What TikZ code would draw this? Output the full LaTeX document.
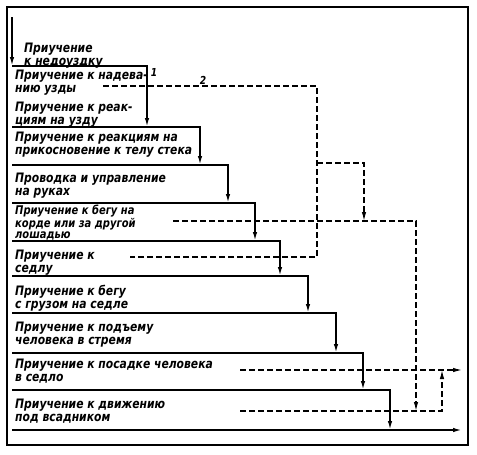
\documentclass[tikz,border=0pt]{standalone}
\usepackage{fontspec}
\setmainfont{DejaVu Sans}
\newfontfamily\lblfont{DejaVu Sans}[FakeStretch=0.83]
\usetikzlibrary{arrows.meta}
\begin{document}
\begin{tikzpicture}[x=1pt,y=-1pt,
  lbl/.style={anchor=north west, inner sep=0pt, align=left, font=\lblfont\bfseries\itshape\fontsize{13}{12.5}\selectfont},
  flow/.style={line width=1.6pt,-{Latex[length=9pt,width=4.5pt]}},
  fb/.style={line width=1.2pt, dash pattern=on 6pt off 3pt},
  fbarrow/.style={fb,-{Latex[length=9pt,width=4.5pt]}},
  num/.style={inner sep=0pt, font=\lblfont\bfseries\itshape\fontsize{11}{11}\selectfont}]
\useasboundingbox (0,0) rectangle (477,455);
\draw[line width=1.4pt] (7,7) rectangle (468,445);

% staircase coordinates
\coordinate (in) at (12,17);
\coordinate (L1) at (12,66);   \coordinate (R1) at (147,66);
\coordinate (L2) at (12,127);  \coordinate (R2) at (200,127);
\coordinate (L3) at (12,165);  \coordinate (R3) at (228,165);
\coordinate (L4) at (12,203);  \coordinate (R4) at (255,203);
\coordinate (L5) at (12,241);  \coordinate (R5) at (280,241);
\coordinate (L6) at (12,276);  \coordinate (R6) at (308,276);
\coordinate (L7) at (12,313);  \coordinate (R7) at (336,313);
\coordinate (L8) at (12,353);  \coordinate (R8) at (363,353);
\coordinate (L9) at (12,390);  \coordinate (R9) at (390,390);
\coordinate (L10) at (12,430); \coordinate (E) at (462,430);

\draw[flow] (in) -- (L1);
\draw[flow] (L1) -- (R1) -- (R1 |- L2);
\draw[flow] (L2) -- (R2) -- (R2 |- L3);
\draw[flow] (L3) -- (R3) -- (R3 |- L4);
\draw[flow] (L4) -- (R4) -- (R4 |- L5);
\draw[flow] (L5) -- (R5) -- (R5 |- L6);
\draw[flow] (L6) -- (R6) -- (R6 |- L7);
\draw[flow] (L7) -- (R7) -- (R7 |- L8);
\draw[flow] (L8) -- (R8) -- (R8 |- L9);
\draw[flow] (L9) -- (R9) -- (R9 |- L10);
\draw[flow] (L10) -- (E);

% labels
\node[lbl] (t0) at (24,43) {Приучение\\ к недоуздку};
\node[lbl] (t1) at (15,70) {Приучение к надева-\\нию узды};
\node[lbl] (t2) at (15,102) {Приучение к реак-\\циям на узду};
\node[lbl] (t3) at (15,132) {Приучение к реакциям на\\прикосновение к телу стека};
\node[lbl] (t4) at (15,173) {Проводка и управление\\на руках};
\node[lbl,font=\lblfont\bfseries\itshape\fontsize{12}{11}\selectfont] (t5) at (15,205) {Приучение к бегу на\\корде или за другой\\лошадью};
\node[lbl] (t6) at (15,250) {Приучение к\\седлу};
\node[lbl] (t7) at (15,285) {Приучение к бегу\\с грузом на седле};
\node[lbl] (t8) at (15,322) {Приучение к подъему\\человека в стремя};
\node[lbl] (t9) at (15,359) {Приучение к посадке человека\\в седло};
\node[lbl] (t10) at (15,399) {Приучение к движению\\под всадником};

\node[num] (n1) at (154,72) {1};
\node[num] (n2) at (203,80) {2};

% dashed feedback lines
\coordinate (a1) at (103,86);  \coordinate (a2) at (317,86);
\coordinate (a3) at (317,257); \coordinate (a4) at (130,257);
\coordinate (b1) at (317,163); \coordinate (b2) at (364,163); \coordinate (b3) at (364,221);
\coordinate (c1) at (173,221); \coordinate (c2) at (416,221); \coordinate (c3) at (416,411);
\coordinate (d1) at (240,411); \coordinate (d2) at (442,411); \coordinate (d3) at (442,370);
\coordinate (e1) at (240,370); \coordinate (e2) at (462,370);

\draw[fb] (a1) -- (a2) -- (a3) -- (a4);
\draw[fbarrow] (b1) -- (b2) -- (b3);
\draw[fbarrow] (c1) -- (c2) -- (c3);
\draw[fbarrow] (d1) -- (d2) -- (d3);
\draw[fbarrow] (e1) -- (e2);
\end{tikzpicture}
\end{document}
